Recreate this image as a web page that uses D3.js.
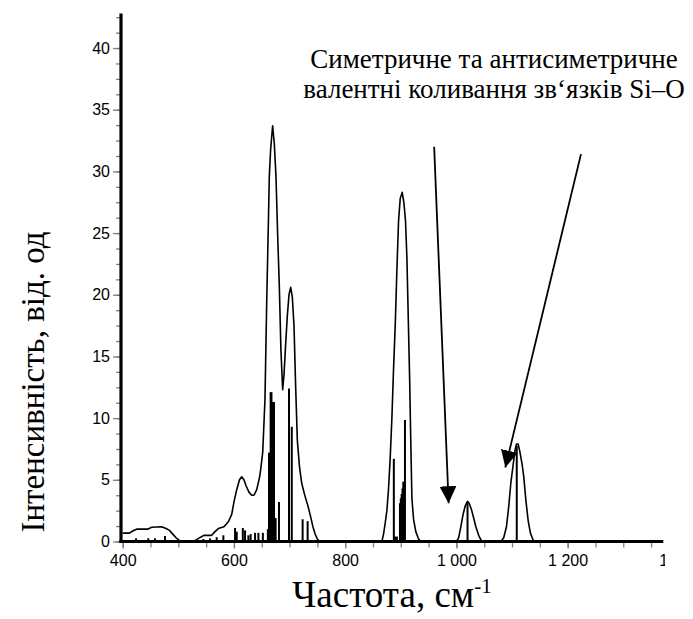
<!DOCTYPE html>
<html>
<head>
<meta charset="utf-8">
<script src="https://cdn.jsdelivr.net/npm/d3@7"></script>
<style>
  body { margin: 0; background: #fff; }
  svg { display: block; }
</style>
</head>
<body>
<svg id="chart" width="693" height="619"></svg>
<script>
/*---- DATA ----*/
// envelope of the spectrum: wavenumber / intensity
var curveX = [400, 412, 418, 425, 445, 452, 470, 478, 484, 490, 496, 503, 508, 526, 533, 540, 546, 560, 566, 572, 582, 590, 596, 600, 605, 610, 614, 618, 622, 627, 632, 636, 641, 646, 648, 651.7, 655.8, 659, 662, 663.6, 666, 669.6, 672.5, 675.6, 678.5, 681.6, 684.5, 687.6, 690, 693, 696, 699, 702, 705, 708, 711, 714, 718, 722, 727, 733, 738, 742, 746, 750, 754, 866, 869, 872, 875, 878, 881, 884, 887, 890, 893, 896, 899, 902.5, 905.5, 908.5, 911, 913.5, 916, 918, 920, 923, 927, 932, 936, 1000, 1004, 1008, 1012, 1016, 1020, 1023, 1027, 1031, 1035, 1040, 1045, 1050, 1080, 1085, 1090, 1094, 1098, 1102, 1105, 1108, 1111, 1114, 1118, 1121, 1125, 1129, 1133, 1138, 1142];
var curveY = [0.68, 0.68, 0.85, 1.0, 1.0, 1.15, 1.2, 1.05, 0.9, 0.6, 0.3, 0.05, 0, 0, 0.15, 0.35, 0.5, 0.5, 0.8, 1.05, 1.2, 1.6, 2.2, 3.2, 4.2, 5.0, 5.25, 5.0, 4.5, 4.0, 3.75, 3.75, 4.2, 5.2, 5.8, 7.2, 11.5, 19.6, 26, 29.6, 31.8, 33.7, 32.3, 29.6, 25, 20.7, 15.5, 12.3, 13.5, 16, 18.3, 20, 20.6, 19.8, 17.5, 12.5, 8.2, 6.0, 4.7, 3.8, 2.9, 2.0, 1.2, 0.6, 0.2, 0, 0, 0.6, 1.5, 2.5, 4.3, 6.8, 10, 14, 17.5, 22, 26, 27.8, 28.3, 27.5, 26, 23, 18, 13, 8, 3.5, 1.8, 0.8, 0.2, 0, 0, 0.3, 1.2, 2.2, 2.9, 3.25, 3.1, 2.6, 1.9, 1.2, 0.5, 0.05, 0, 0, 0.3, 1.2, 2.8, 4.8, 6.2, 7.3, 7.9, 7.9, 7.3, 6.3, 5.3, 3.3, 1.7, 0.7, 0.1, 0];

// calculated lines (sticks)
var stickX = [424, 446, 458, 476, 545, 557, 569, 581, 602, 605, 616, 620, 626, 630, 638, 644, 652, 661, 663, 664.5, 666, 667.5, 669, 670.5, 672, 675, 681, 699, 704, 723.5, 732.5, 887.5, 890, 893, 898.5, 900, 901.5, 903, 904.5, 907.5, 1020, 1108.5];
var stickY = [0.26, 0.26, 0.26, 0.45, 0.2, 0.25, 0.35, 0.5, 1.1, 0.8, 1.1, 0.9, 0.5, 0.6, 0.7, 0.7, 0.7, 1.0, 7.2, 7.2, 12.1, 12.1, 11.3, 11.3, 11.3, 1.9, 3.2, 12.4, 9.3, 1.8, 1.65, 6.7, 0.4, 0.4, 3.1, 3.5, 3.85, 4.3, 4.85, 9.85, 3.2, 7.75];

var xDomain = [400, 1372];
var yDomain = [0, 42.8];
var xMajor = [400, 600, 800, 1000, 1200, 1400];
var yMajor = [0, 5, 10, 15, 20, 25, 30, 35, 40];

var xTitle = "Частота, см";
var xTitleSup = "-1";
var yTitle = "Інтенсивність, від. од";
var noteLines = ["Симетричне та антисиметричне", "валентні коливання зв‘язків Si–O"];
// arrows: tail and tip in data units
var arrowTail = [[960, 32.0], [1224, 31.4]];
var arrowTip = [[986, 3.1], [1088, 6.0]];

/*---- SCALES ----*/
var svg = d3.select("#chart");
var x = d3.scaleLinear().domain(xDomain).range([122.7, 663.3]);
var y = d3.scaleLinear().domain(yDomain).range([541.5, 13.5]);

var fmt = d3.formatLocale({decimal: ",", thousands: " ", grouping: [3], currency: ["", ""]}).format(",");

var xMinor = d3.range(400, 1372, 50);
var yMinor = d3.range(0, 42.8, 1.25);

/*---- SPECTRUM ----*/
var curve = curveX.map(function(d, i) { return [d, curveY[i]]; });
var line = d3.line().x(function(d) { return x(d[0]); }).y(function(d) { return y(d[1]); });

svg.append("path")
    .datum(curve)
    .attr("d", line)
    .attr("fill", "none")
    .attr("stroke", "#000")
    .attr("stroke-width", 1.6)
    .attr("stroke-linejoin", "round");

svg.append("g")
    .selectAll("line")
    .data(stickX)
    .enter()
    .append("line")
    .attr("x1", function(d) { return x(d); })
    .attr("x2", function(d) { return x(d); })
    .attr("y1", y(0))
    .attr("y2", function(d, i) { return y(stickY[i]); })
    .attr("stroke", "#000")
    .attr("stroke-width", 2);

/*---- AXES ----*/
var clip = svg.append("clipPath").attr("id", "xclip");
clip.append("rect").attr("x", 0).attr("y", 0).attr("width", 665).attr("height", 619);

var gxMinor = svg.append("g")
    .attr("transform", "translate(0," + y(0) + ")")
    .call(d3.axisBottom(x).tickValues(xMinor).tickSize(6).tickFormat(""));
var gx = svg.append("g")
    .attr("transform", "translate(0," + y(0) + ")")
    .attr("clip-path", "url(#xclip)")
    .call(d3.axisBottom(x).tickValues(xMajor).tickSize(7).tickPadding(6).tickFormat(fmt));

var gyMinor = svg.append("g")
    .attr("transform", "translate(121,0)")
    .call(d3.axisLeft(y).tickValues(yMinor).tickSize(5).tickFormat(""));
var gy = svg.append("g")
    .attr("transform", "translate(121,0)")
    .call(d3.axisLeft(y).tickValues(yMajor).tickSize(8).tickPadding(3).tickFormat(d3.format("d")));

[gx, gxMinor, gy, gyMinor].forEach(function(g) {
    g.select(".domain").remove();
    g.selectAll(".tick line").attr("stroke", "#808080").attr("stroke-width", 1.3);
    g.selectAll(".tick text")
        .attr("fill", "#000")
        .style("font-family", "Arial, 'Liberation Sans', sans-serif")
        .style("font-size", "16px");
});
gx.selectAll(".tick").filter(function(d) { return d > 1372; }).select("line").remove();

// axis lines
svg.append("line")
    .attr("x1", 121).attr("x2", 121)
    .attr("y1", y(yDomain[1])).attr("y2", y(0) + 1.5)
    .attr("stroke", "#000").attr("stroke-width", 3.2);
svg.append("line")
    .attr("x1", 119.4).attr("x2", x(xDomain[1]))
    .attr("y1", y(0)).attr("y2", y(0))
    .attr("stroke", "#000").attr("stroke-width", 3.2);

/*---- TITLES ----*/
var xt = svg.append("text")
    .attr("x", 392)
    .attr("y", 607)
    .attr("text-anchor", "middle")
    .style("font-family", "'Liberation Serif', 'Times New Roman', serif")
    .style("font-size", "37px")
    .text(xTitle);
xt.append("tspan")
    .attr("dy", -14)
    .style("font-size", "21px")
    .text(xTitleSup);

svg.append("text")
    .attr("transform", "translate(44,382) rotate(-90)")
    .attr("text-anchor", "middle")
    .style("font-family", "'Liberation Serif', 'Times New Roman', serif")
    .style("font-size", "33px")
    .text(yTitle);

/*---- ANNOTATION ----*/
svg.append("g")
    .selectAll("text")
    .data(noteLines)
    .enter()
    .append("text")
    .attr("x", 494)
    .attr("y", function(d, i) { return 68 + i * 30; })
    .attr("text-anchor", "middle")
    .style("font-family", "'Liberation Serif', 'Times New Roman', serif")
    .style("font-size", "27px")
    .text(function(d) { return d; });

svg.append("defs").append("marker")
    .attr("id", "head")
    .attr("viewBox", "0 0 10 10")
    .attr("refX", 10).attr("refY", 5)
    .attr("markerUnits", "userSpaceOnUse")
    .attr("markerWidth", 17).attr("markerHeight", 17)
    .attr("orient", "auto")
    .append("path")
    .attr("d", "M0,0 L10,5 L0,10 Z")
    .attr("fill", "#000");

svg.append("g")
    .selectAll("line")
    .data(arrowTail)
    .enter()
    .append("line")
    .attr("x1", function(d) { return x(d[0]); })
    .attr("y1", function(d) { return y(d[1]); })
    .attr("x2", function(d, i) { return x(arrowTip[i][0]); })
    .attr("y2", function(d, i) { return y(arrowTip[i][1]); })
    .attr("stroke", "#000")
    .attr("stroke-width", 1.8)
    .attr("marker-end", "url(#head)");
</script>
</body>
</html>
